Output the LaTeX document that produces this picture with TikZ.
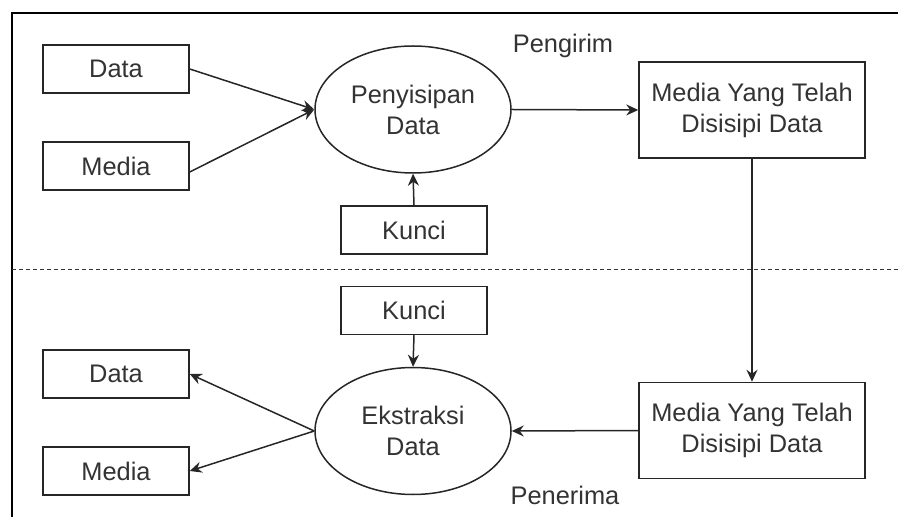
\documentclass[tikz,border=0pt]{standalone}
\usepackage{fontspec}
\setmainfont{Liberation Sans}
\usetikzlibrary{shapes.geometric,arrows.meta}
\begin{document}
\begin{tikzpicture}[x=0.5pt,y=-0.5pt,
 box/.style={draw=black!85, line width=0.75pt, inner sep=0pt, align=center, text=black!80, font=\fontsize{12.7}{15.5}\selectfont},
 smallbox/.style={box, minimum width=73pt, minimum height=24pt},
 bigbox/.style={box, minimum width=113pt, minimum height=48pt},
 proc/.style={box, ellipse, minimum width=98pt, minimum height=63.5pt},
 arr/.style={draw=black!85, line width=0.75pt, -{Stealth[length=6pt,width=5.5pt,inset=2pt]}},
 lbl/.style={font=\fontsize{12.7}{15.5}\selectfont, text=black!80, inner sep=0pt}]
\useasboundingbox (0,0) rectangle (898,517);
\draw[line width=0.75pt] (12,517) -- (12,13) -- (898,13);
\draw[dash pattern=on 2pt off 1.5pt, line width=0.5pt, black!80] (12,270) -- (898,270);
% upper part
\node[smallbox] (d1) at (116,69) {Data};
\node[smallbox] (m1) at (116,166) {Media};
\node[proc] (p1) at (413,109.5) {Penyisipan\\Data};
\node[smallbox] (k1) at (414,230) {Kunci};
\node[bigbox] (b1) at (752,110) {Media Yang Telah\\Disisipi Data};
\node[lbl] (t1) at (563,46) {Pengirim};
\draw[arr] (d1.east) -- (p1.west);
\draw[arr] ([yshift=-3pt]m1.east) -- (p1.west);
\draw[arr] (k1.north) -- (p1.south);
\draw[arr] (p1.east) -- (b1.west);
% lower part
\node[smallbox] (k2) at (414,310.5) {Kunci};
\node[proc] (p2) at (413,431) {Ekstraksi\\Data};
\node[smallbox] (d2) at (116,374) {Data};
\node[smallbox] (m2) at (116,471) {Media};
\node[bigbox] (b2) at (752,430.5) {Media Yang Telah\\Disisipi Data};
\node[lbl] (t2) at (565,495) {Penerima};
\draw[arr] (b1.south) -- (b2.north);
\draw[arr] (b2.west) -- (p2.east);
\draw[arr] (k2.south) -- (p2.north);
\draw[arr] (p2.west) -- (d2.east);
\draw[arr] (p2.west) -- (m2.east);
\end{tikzpicture}
\end{document}
